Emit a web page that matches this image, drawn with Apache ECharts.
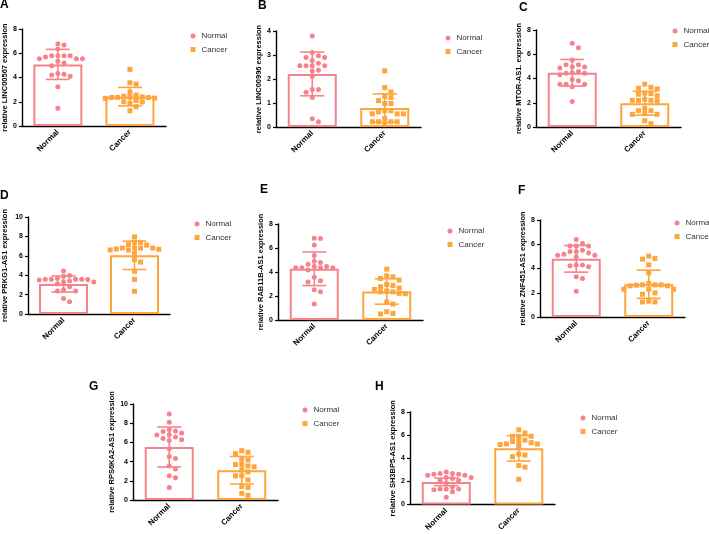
<!DOCTYPE html>
<html>
<head>
<meta charset="utf-8">
<script src="https://cdn.jsdelivr.net/npm/echarts@6/dist/echarts.min.js"></script>
<style>html,body{margin:0;padding:0;background:#fff}#c{width:709px;height:534px}</style>
</head>
<body>
<div id="c"></div>
<script>
// ---------------- data ----------------
const categories = ['Normal', 'Cancer'];
const panelLetters = ['A', 'B', 'C', 'D', 'E', 'F', 'G', 'H'];
const yNames = [
  'relative LINC00567 expression',
  'relative LINC00996 expression',
  'relative MTOR-AS1. expression',
  'relative PRKG1-AS1 expression',
  'relative RAB11B-AS1 expression',
  'relative ZNF451-AS1 expression',
  'relative RPS6KA2-AS1 expression',
  'relative SH3BP5-AS1 expression'
];
const yMax = [8, 4, 8, 10, 8, 8, 10, 8];
const yStep = [2, 1, 2, 2, 2, 2, 2, 2];

const normalA = [6.79, 6.68, 6.35, 5.8, 5.8, 5.8, 5.8, 5.69, 5.55, 5.55, 5.55, 5.33, 5.2, 4.97, 4.34, 4.26, 4.2, 4.1, 3.24, 1.46];
const cancerA = [4.67, 3.57, 3.46, 2.8, 2.55, 2.45, 2.4, 2.38, 2.36, 2.35, 2.35, 2.3, 2.28, 2.1, 2.0, 1.98, 1.87, 1.6, 1.26];
const normalB = [3.79, 3.1, 2.97, 2.9, 2.9, 2.77, 2.66, 2.55, 2.55, 2.55, 2.55, 2.36, 2.33, 2.11, 1.56, 1.56, 1.45, 1.23, 0.34, 0.22];
const cancerB = [2.34, 1.64, 1.46, 1.28, 1.23, 1.1, 0.98, 0.98, 0.68, 0.63, 0.68, 0.55, 0.55, 0.55, 0.36, 0.22, 0.22, 0.22, 0.22, 0.1];
const normalC = [6.9, 6.54, 5.52, 5.13, 5.13, 4.97, 4.94, 4.86, 4.58, 4.44, 4.3, 4.44, 4.5, 3.92, 3.81, 3.53, 3.53, 3.53, 3.31, 2.1];
const cancerC = [3.53, 3.2, 3.14, 3.28, 2.76, 2.79, 2.57, 2.7, 2.2, 2.15, 2.2, 2.2, 2.29, 1.52, 1.35, 1.35, 1.1, 1.05, 1.05, 0.52, 0.28];
const normalD = [4.43, 3.98, 3.88, 3.65, 3.57, 3.57, 3.57, 3.57, 3.55, 3.5, 3.4, 3.3, 3.3, 3.13, 2.82, 2.5, 2.37, 2.37, 1.6, 1.27];
const cancerD = [7.94, 7.39, 7.39, 7.15, 7.1, 6.8, 6.8, 6.8, 6.8, 6.7, 6.67, 6.6, 6.6, 6.25, 5.6, 5.35, 4.4, 3.57, 2.34];
const normalE = [6.81, 6.79, 6.26, 5.37, 4.9, 4.8, 4.65, 4.46, 4.35, 4.35, 4.35, 4.35, 4.46, 4.16, 3.57, 3.27, 3.16, 2.52, 2.35, 1.33];
const cancerE = [4.24, 3.68, 3.6, 3.46, 3.32, 2.96, 2.88, 2.77, 2.66, 2.55, 2.41, 2.35, 2.35, 2.22, 2.19, 1.5, 1.33, 0.69, 0.55, 0.5];
const normalF = [6.4, 6.07, 5.85, 5.85, 5.85, 5.5, 5.41, 5.41, 5.27, 5.18, 5.1, 5.1, 4.97, 4.28, 4.28, 4.22, 4.14, 3.31, 3.17, 2.12];
const cancerF = [5.02, 4.83, 4.77, 4.3, 3.64, 2.76, 2.65, 2.65, 2.65, 2.62, 2.57, 2.57, 2.29, 2.29, 2.29, 1.99, 1.88, 1.3, 1.24, 1.24];
const normalG = [8.97, 8.1, 7.34, 7.2, 7.14, 6.97, 6.8, 6.76, 6.55, 6.41, 6.28, 6.2, 5.34, 4.52, 4.31, 3.55, 3.24, 2.52, 2.31, 1.31];
const cancerG = [5.14, 4.97, 4.83, 4.28, 4.17, 3.72, 3.69, 3.55, 3.45, 3.14, 2.93, 2.52, 2.52, 2.1, 1.41, 1.31, 0.69, 0.48];
const normalH = [2.81, 2.68, 2.68, 2.62, 2.62, 2.54, 2.54, 2.34, 2.34, 2.26, 2.07, 2.07, 1.88, 1.52, 1.35, 1.35, 1.35, 1.27, 1.1, 0.63];
const cancerH = [6.46, 6.18, 5.9, 5.9, 5.9, 5.57, 5.46, 5.46, 5.35, 5.24, 5.24, 5.19, 5.02, 4.36, 4.28, 4.14, 3.37, 3.23, 2.18];

// bar heights (mean) and error bars (SD), [Normal, Cancer]
const meanA = [5.08, 2.42], sdA = [1.24, 0.76];
const meanB = [2.21, 0.79], sdB = [0.91, 0.59];
const meanC = [4.47, 1.96], sdC = [1.10, 0.98];
const meanD = [3.09, 6.05], sdD = [0.83, 1.46];
const meanE = [4.27, 2.38], sdE = [1.40, 1.06];
const meanF = [4.80, 2.70], sdF = [1.10, 1.16];
const meanG = [5.52, 3.10], sdG = [2.08, 1.43];
const meanH = [1.96, 4.86], sdH = [0.33, 1.10];

const normals = [normalA, normalB, normalC, normalD, normalE, normalF, normalG, normalH];
const cancers = [cancerA, cancerB, cancerC, cancerD, cancerE, cancerF, cancerG, cancerH];
const means = [meanA, meanB, meanC, meanD, meanE, meanF, meanG, meanH];
const sds = [sdA, sdB, sdC, sdD, sdE, sdF, sdG, sdH];

// ---------------- layout & style ----------------
const grids = [
  {left: 21, top: 29, height: 97},
  {left: 276, top: 31, height: 96},
  {left: 536, top: 30, height: 97},
  {left: 25, top: 217, height: 97},
  {left: 278, top: 224, height: 96},
  {left: 540, top: 220, height: 97},
  {left: 133, top: 404, height: 96},
  {left: 410, top: 412, height: 96}
];
const gridW = 145;
const nameGaps = [11, 10, 10.5, 19, 9.5, 9, 15.5, 10.5];
const legendPos = [[193, 36], [448, 38], [675, 31], [197, 224], [450, 231], [677, 223], [305, 410], [583, 418]];
const letterPos = [[0, 5], [258, 6], [519, 7.5], [0, 196], [260, 190], [518, 190.5], [89, 387], [375, 387]];

const PINK = '#F6838B';
const ORANGE = '#FFA53D';
const FONT = 'Liberation Sans, Arial, sans-serif';
const DOT = 5, SPACING = 6.2;

// Prism-like scatter arrangement: spread points with close values sideways
function swarm(values, pxPerUnit) {
  const order = values.map((v, i) => i).sort((a, b) => values[b] - values[a]);
  const placed = [];
  const out = new Array(values.length);
  for (const i of order) {
    const y = values[i] * pxPerUnit;
    let best = 0;
    for (let k = 0; k < 200; k++) {
      const cand = (k % 2 === 1 ? 1 : -1) * Math.ceil(k / 2) * (SPACING / 2);
      if (placed.every(p => !(Math.abs(p.x - cand) < SPACING - 0.01 && Math.abs(p.y - y) < DOT))) { best = cand; break; }
    }
    placed.push({x: best, y});
    out[i] = best;
  }
  return out;
}

const option = {
  animation: false,
  backgroundColor: '#fff',
  textStyle: {fontFamily: FONT},
  grid: [], xAxis: [], yAxis: [], series: [], legend: [], graphic: []
};

function errRender(params, api) {
  const x = api.value(0), m = api.value(1), s = api.value(2);
  const top = api.coord([x, m + s]);
  const bot = api.coord([x, m - s]);
  const cw = 12;
  const style = {stroke: api.visual('color'), lineWidth: 1.6};
  return {type: 'group', children: [
    {type: 'line', shape: {x1: top[0], y1: top[1], x2: bot[0], y2: bot[1]}, style},
    {type: 'line', shape: {x1: top[0] - cw, y1: top[1], x2: top[0] + cw, y2: top[1]}, style},
    {type: 'line', shape: {x1: bot[0] - cw, y1: bot[1], x2: bot[0] + cw, y2: bot[1]}, style}
  ]};
}

for (let i = 0; i < 8; i++) {
  const g = grids[i];
  option.grid.push({left: g.left, top: g.top, width: gridW, height: g.height, containLabel: false});
  option.xAxis.push({
    gridIndex: i, type: 'category', data: categories,
    axisLine: {onZero: false, lineStyle: {color: '#000', width: 1.4}},
    axisTick: {alignWithLabel: true, length: 3, lineStyle: {color: '#000', width: 1.2}},
    axisLabel: {rotate: 45, margin: 5, color: '#000', fontSize: 8, fontWeight: 'bold', fontFamily: FONT}
  });
  option.xAxis.push({gridIndex: i, type: 'value', min: -0.5, max: 1.5, show: false});
  option.yAxis.push({
    gridIndex: i, type: 'value', min: 0, max: yMax[i], interval: yStep[i],
    name: yNames[i], nameLocation: 'middle', nameGap: nameGaps[i],
    nameTextStyle: {color: '#000', fontSize: 7.5, fontWeight: 'bold', fontFamily: FONT},
    axisLine: {show: true, onZero: false, lineStyle: {color: '#000', width: 1.4}},
    axisTick: {show: true, length: 3, lineStyle: {color: '#000', width: 1.2}},
    axisLabel: {margin: 5, color: '#000', fontSize: 7, fontWeight: 'bold', fontFamily: FONT},
    splitLine: {show: false}
  });
  const pxPerUnit = g.height / yMax[i];
  const pxPerX = gridW / 2;
  const nOff = swarm(normals[i], pxPerUnit);
  const cOff = swarm(cancers[i], pxPerUnit);
  option.series.push({
    type: 'bar', name: 'bar' + i, xAxisIndex: 2 * i, yAxisIndex: i, barWidth: 49, z: 2,
    data: [
      {value: means[i][0], itemStyle: {color: '#fff', borderColor: PINK, borderWidth: 2}},
      {value: means[i][1], itemStyle: {color: '#fff', borderColor: ORANGE, borderWidth: 2}}
    ]
  });
  option.series.push({
    type: 'scatter', name: 'Normal', xAxisIndex: 2 * i + 1, yAxisIndex: i, z: 3,
    symbol: 'circle', symbolSize: DOT, itemStyle: {color: PINK, opacity: 1},
    data: normals[i].map((v, k) => [0 + nOff[k] / pxPerX, v])
  });
  option.series.push({
    type: 'scatter', name: 'Cancer', xAxisIndex: 2 * i + 1, yAxisIndex: i, z: 3,
    symbol: 'rect', symbolSize: DOT, itemStyle: {color: ORANGE, opacity: 1},
    data: cancers[i].map((v, k) => [1 + cOff[k] / pxPerX, v])
  });
  option.series.push({
    type: 'custom', name: 'err' + i, xAxisIndex: 2 * i + 1, yAxisIndex: i, z: 4,
    renderItem: errRender,
    data: [
      {value: [0, means[i][0], sds[i][0]], itemStyle: {color: PINK}},
      {value: [1, means[i][1], sds[i][1]], itemStyle: {color: ORANGE}}
    ]
  });
  option.legend.push({
    left: legendPos[i][0] - 2.5, top: legendPos[i][1] - 5, orient: 'vertical', padding: 0,
    itemWidth: 5, itemHeight: 5, itemGap: 3.5, selectedMode: false,
    textStyle: {fontSize: 8, color: '#333', lineHeight: 10, fontFamily: FONT, padding: [0, 0, 0, 1]},
    data: [{name: 'Normal', icon: 'circle'}, {name: 'Cancer', icon: 'rect'}]
  });
  option.graphic.push({
    type: 'text', left: letterPos[i][0], top: letterPos[i][1] - 6,
    style: {text: panelLetters[i], font: 'bold 12px ' + FONT, fill: '#000'}
  });
}

const chart = echarts.init(document.getElementById('c'), null, {renderer: 'canvas'});
chart.setOption(option);
</script>
</body>
</html>
